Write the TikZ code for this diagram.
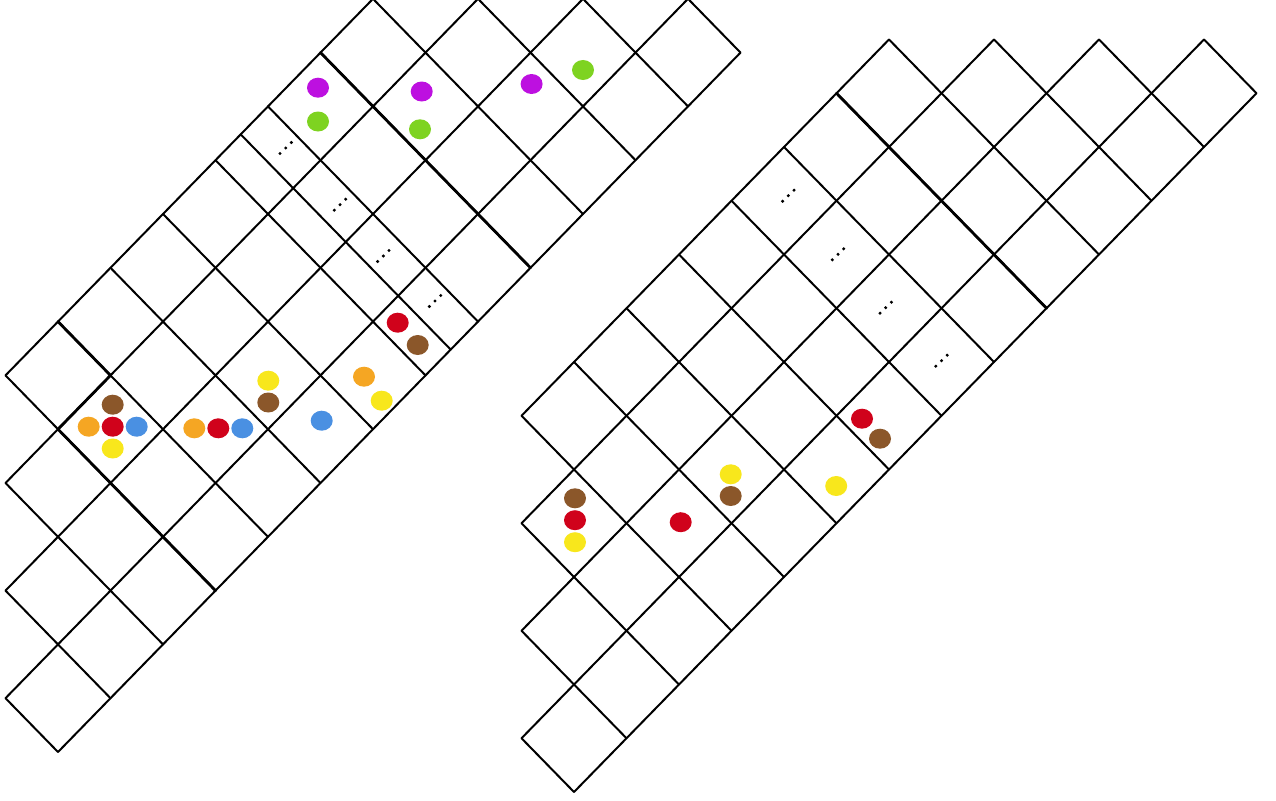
\documentclass[tikz,border=0pt]{standalone}
\usetikzlibrary{shapes.geometric}
\definecolor{cOrange}{HTML}{F5A623}
\definecolor{cRed}{HTML}{D0021B}
\definecolor{cBlue}{HTML}{4A90E2}
\definecolor{cYellow}{HTML}{F8E71C}
\definecolor{cBrown}{HTML}{8B572A}
\definecolor{cPurple}{HTML}{BD10E0}
\definecolor{cGreen}{HTML}{7ED321}
\tikzset{
  gridline/.style={line width=2pt, line cap=round, line join=round, black},
  heavyline/.style={line width=2.8pt, line cap=round, line join=round, black},
  bead/.style={ellipse, fill=#1, draw=none, minimum width=22pt, minimum height=20pt, inner sep=0pt},
  ellip/.pic={\fill[black] (-5.7,5.5) circle[radius=1.7pt] (0,0) circle[radius=1.7pt] (5.7,-5.5) circle[radius=1.7pt];}
}
\begin{document}
\begin{tikzpicture}[x=1pt,y=-1pt]
\useasboundingbox (0,0) rectangle (1276,800);
\fill[white] (0,0) rectangle (1276,800);

% ---------- left lattice ----------
\begin{scope}[shift={(58,752)}, x={(52.5pt,53.8pt)}, y={(-52.5pt,53.8pt)}]
  \foreach \b/\s/\e in {0/0/13,1/0/13,2/1/12,3/2/11,4/3/10}
    \draw[gridline] (\s,\b) -- (\e,\b);
  \foreach \a/\e in {0/1,1/2,2/3,3/4,4/4,5/4,6/4,7/4,7.48/4,8/4,9/4,10/4,11/3,12/2,13/1}
    \draw[gridline] (\a,0) -- (\a,\e);
  \draw[heavyline] (4,4) -- (4,3) -- (3,3) -- (3,0);
  \draw[heavyline] (9,0) -- (9,4);
\end{scope}

% ---------- right lattice ----------
\begin{scope}[shift={(574,792)}, x={(52.5pt,53.75pt)}, y={(-52.5pt,53.75pt)}]
  \foreach \b/\s/\e in {0/0/13,1/0/13,2/1/12,3/2/11,4/3/10}
    \draw[gridline] (\s,\b) -- (\e,\b);
  \foreach \a/\e in {0/1,1/2,2/3,3/4,4/4,5/4,6/4,7/4,8/4,9/4,10/4,11/3,12/2,13/1}
    \draw[gridline] (\a,0) -- (\a,\e);
  \draw[heavyline] (9,0) -- (9,4);
\end{scope}

% ---------- ellipsis marks ----------
\pic at (285.7,148) {ellip};
\pic at (340,204.7) {ellip};
\pic at (383.3,256) {ellip};
\pic at (435,301) {ellip};
\pic at (788.3,195.7) {ellip};
\pic at (838,254.3) {ellip};
\pic at (885.7,307.7) {ellip};
\pic at (941.5,360.7) {ellip};

% ---------- beads, left ----------
\node[bead=cBrown]  (l1)  at (112.7,404.7) {};
\node[bead=cOrange] (l2)  at (88.7,426.7) {};
\node[bead=cRed]    (l3)  at (112.7,426.7) {};
\node[bead=cBlue]   (l4)  at (136.7,426.7) {};
\node[bead=cYellow] (l5)  at (112.7,448.5) {};
\node[bead=cOrange] (l6)  at (194.3,428.3) {};
\node[bead=cRed]    (l7)  at (218.3,428.3) {};
\node[bead=cBlue]   (l8)  at (242.3,428.3) {};
\node[bead=cYellow] (l9)  at (268.3,380.7) {};
\node[bead=cBrown]  (l10) at (268.3,402.5) {};
\node[bead=cBlue]   (l11) at (321.7,420.7) {};
\node[bead=cOrange] (l12) at (364,376.7) {};
\node[bead=cYellow] (l13) at (381.7,400.7) {};
\node[bead=cRed]    (l14) at (397.7,322.7) {};
\node[bead=cBrown]  (l15) at (417.7,345) {};
\node[bead=cPurple] (l16) at (318,87.7) {};
\node[bead=cGreen]  (l17) at (318,121.5) {};
\node[bead=cPurple] (l18) at (421.7,91.5) {};
\node[bead=cGreen]  (l19) at (420,129.3) {};
\node[bead=cPurple] (l20) at (531.6,84) {};
\node[bead=cGreen]  (l21) at (583,70) {};

% ---------- beads, right ----------
\node[bead=cBrown]  (r1) at (575,498.3) {};
\node[bead=cRed]    (r2) at (575,520.2) {};
\node[bead=cYellow] (r3) at (575,542.2) {};
\node[bead=cRed]    (r4) at (680.7,522.2) {};
\node[bead=cYellow] (r5) at (730.7,474.3) {};
\node[bead=cBrown]  (r6) at (730.7,496) {};
\node[bead=cYellow] (r7) at (836.2,486) {};
\node[bead=cRed]    (r8) at (862,418.7) {};
\node[bead=cBrown]  (r9) at (880,438.7) {};
\end{tikzpicture}
\end{document}
